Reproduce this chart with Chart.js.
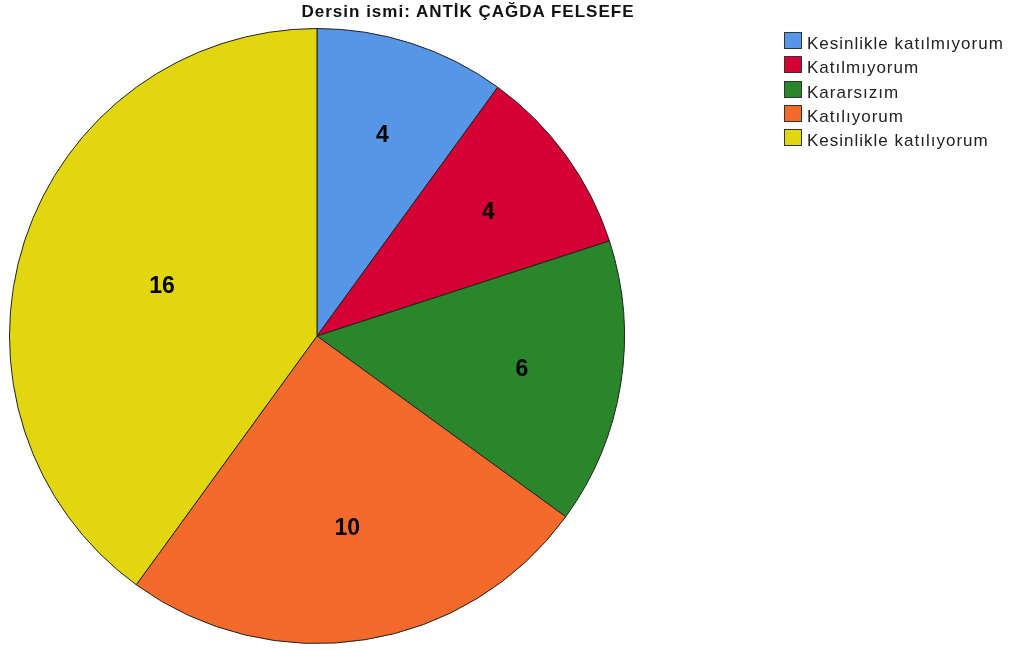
<!DOCTYPE html>
<html><head><meta charset="utf-8">
<script src="https://cdn.jsdelivr.net/npm/chart.js@4"></script>
<style>
html,body{margin:0;padding:0;background:#fff;}
#wrap{position:relative;width:1013px;height:650px;}
#title{position:absolute;left:268px;top:2px;width:400px;text-align:center;font:bold 17px "Liberation Sans",Arial,sans-serif;letter-spacing:1px;color:#111;white-space:nowrap;}
#legend{position:absolute;left:784px;top:32px;font:17px "Liberation Sans",Arial,sans-serif;color:#222;}
.li{height:17px;margin-bottom:7.25px;display:flex;align-items:flex-start;white-space:nowrap;letter-spacing:1px;line-height:17px;}
.li span{position:relative;top:3px;}
.sw{width:18px;height:17px;border:1px solid #333;box-sizing:border-box;margin-right:5px;}
</style></head>
<body><div id="wrap"><canvas id="c" width="1013" height="650"></canvas><div id="title"></div><div id="legend"></div></div>
<script>
const titleText = "Dersin ismi: ANTİK ÇAĞDA FELSEFE";
const categories = ["Kesinlikle katılmıyorum","Katılmıyorum","Kararsızım","Katılıyorum","Kesinlikle katılıyorum"];
const counts = [4,4,6,10,16];
const colors = ["#5597e6","#d50033","#29862b","#f36a2b","#e2d60f"];

document.getElementById('title').textContent = titleText;
const lg = document.getElementById('legend');
categories.forEach((c,i)=>{
  const d=document.createElement('div');d.className='li';
  const s=document.createElement('div');s.className='sw';s.style.background=colors[i];
  const t=document.createElement('span');t.textContent=c;
  d.appendChild(s);d.appendChild(t);lg.appendChild(d);
});

const labelPlugin = {
  id:'sliceLabels',
  afterDatasetsDraw(chart){
    const ctx=chart.ctx;const meta=chart.getDatasetMeta(0);
    ctx.save();ctx.font='bold 23px "Liberation Sans", Arial, sans-serif';ctx.fillStyle='#000';
    ctx.textAlign='center';ctx.textBaseline='middle';
    meta.data.forEach((arc,i)=>{
      const p=arc.getProps(['x','y','startAngle','endAngle','outerRadius'],true);
      const half=(p.endAngle-p.startAngle)/2;const mid=p.startAngle+half;
      const r=p.outerRadius*(2*Math.sin(half)/(3*half))*1.05;
      ctx.fillText(String(chart.data.datasets[0].data[i]), p.x+Math.cos(mid)*r, p.y+Math.sin(mid)*r+1);
    });
    ctx.restore();
  }
};

new Chart(document.getElementById('c'),{
  type:'pie',
  data:{labels:categories,datasets:[{data:counts,backgroundColor:colors,borderColor:'#222',borderWidth:1}]},
  options:{responsive:false,animation:false,
    layout:{padding:{left:9,right:388,top:28,bottom:6}},
    plugins:{legend:{display:false},title:{display:false},tooltip:{enabled:false}}},
  plugins:[labelPlugin]
});
</script></body></html>
